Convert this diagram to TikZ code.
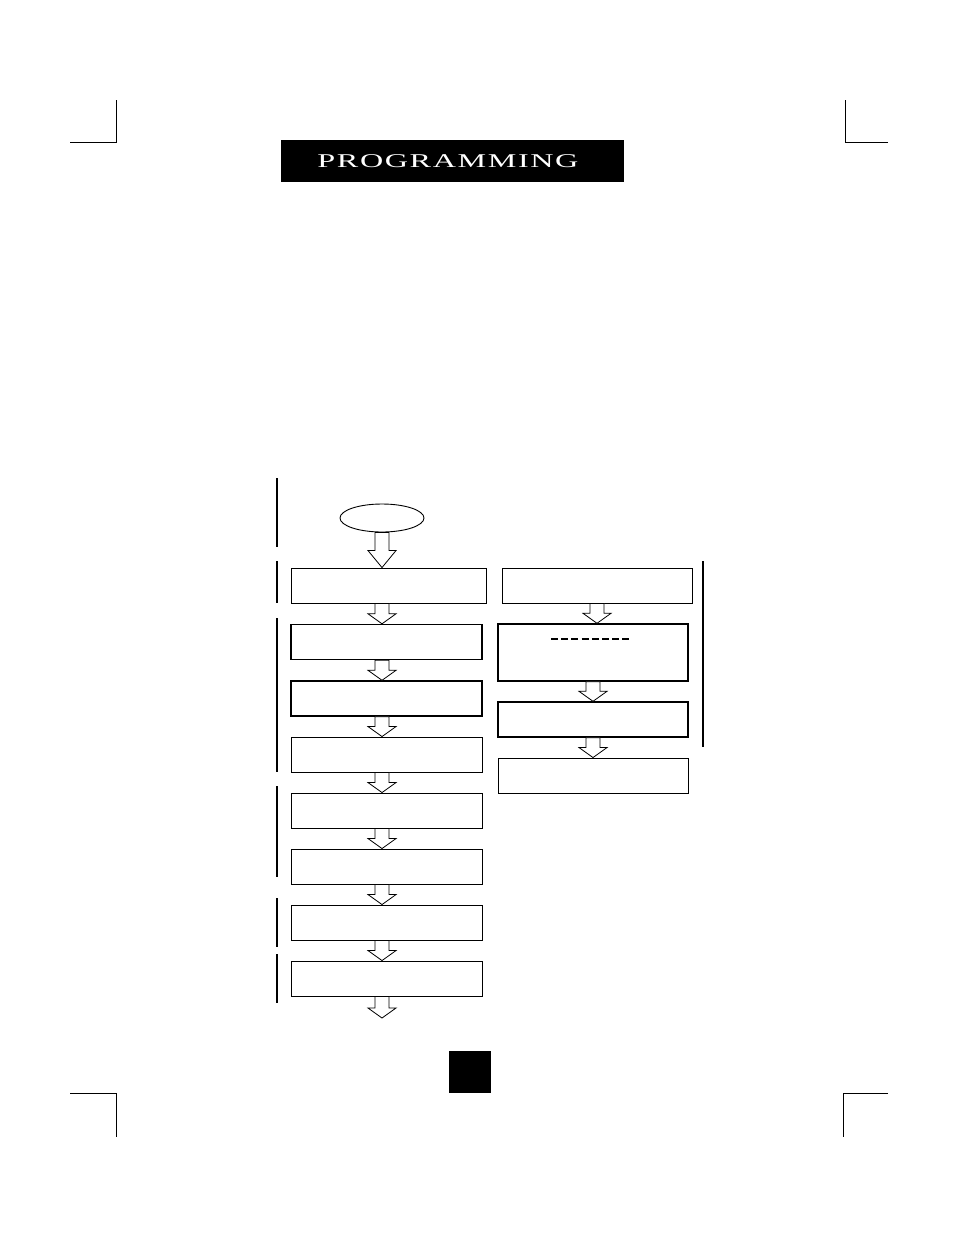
\documentclass[tikz,border=0pt]{standalone}
\usepackage{fontspec}
\setmainfont{Liberation Serif}
\usetikzlibrary{shapes,arrows,calc}

\begin{document}
\begin{tikzpicture}[
  x=1pt,y=-1pt,
  stepBox/.style={draw,rectangle,line width=0.9pt,minimum width=191pt,minimum height=35pt,inner sep=0pt},
  heavyBox/.style={stepBox,line width=1.4pt},
  startNode/.style={draw,ellipse,line width=0.9pt,minimum width=84pt,minimum height=28pt,inner sep=0pt},
  titleBar/.style={fill=black,text=white,minimum width=343pt,minimum height=42pt,inner sep=0pt,font=\fontsize{19.5}{19.5}\selectfont},
  pageMark/.style={fill=black,minimum width=42pt,minimum height=42pt,inner sep=0pt},
  cropMark/.style={line width=0.9pt},
  bracketBar/.style={line width=1.1pt},
  dashRule/.style={line width=2pt,dash pattern=on 7pt off 3.2pt},
  blockArrow/.style={draw,fill=white,line width=0.8pt,line join=miter,
    to path={let \p1=(\tikztostart),\p2=(\tikztotarget) in
      (\x2-7pt,\y1) -- (\x2-7pt,\y2+#1) -- (\x2-14pt,\y2+#1) -- (\x2,\y2)
      -- (\x2+14pt,\y2+#1) -- (\x2+7pt,\y2+#1) -- (\x2+7pt,\y1) -- cycle}},
  blockArrow/.default=10pt]

  \useasboundingbox (0,0) rectangle (954,1235);

  % crop marks
  \draw [cropMark] (70,142) -- (116,142) -- (116,100);
  \draw [cropMark] (888,142) -- (845,142) -- (845,100);
  \draw [cropMark] (70,1093) -- (116,1093) -- (116,1137);
  \draw [cropMark] (888,1093) -- (843,1093) -- (843,1137);

  % header and page tab
  \node [titleBar] (title) at (452.5,161) {\hspace*{-9pt}\scalebox{1.65}[1]{\addfontfeature{LetterSpace=5}PROGRAMMING}};
  \node [pageMark] (pageNo) at (470,1072) {};

  % left column
  \node [startNode] (start) at (382,518) {};
  \node [stepBox,minimum width=195pt] (b1) at (388.5,585.5) {};
  \node [heavyBox] (b2) at (386.5,642) {};
  \node [heavyBox] (b3) at (386.5,698.5) {};
  \node [stepBox] (b4) at (386.5,754.5) {};
  \node [stepBox] (b5) at (386.5,810.5) {};
  \node [stepBox] (b6) at (386.5,866.5) {};
  \node [stepBox] (b7) at (386.5,922.5) {};
  \node [stepBox] (b8) at (386.5,978.5) {};
  \coordinate (flowEnd) at (382,1018);

  % right column
  \node [stepBox,minimum width=190pt] (r1) at (597,585.5) {};
  \node [heavyBox,minimum width=190pt,minimum height=57pt] (r2) at (593,652.5) {};
  \node [heavyBox,minimum width=190pt] (r3) at (593,719.5) {};
  \node [stepBox,minimum width=190pt] (r4) at (593,775.5) {};
  \draw [dashRule] (551,639) -- (629,639);

  % arrows down the left column
  \draw [blockArrow=17pt] (start.south) to (b1.north -| start.south);
  \foreach \a/\b in {b1/b2,b2/b3,b3/b4,b4/b5,b5/b6,b6/b7,b7/b8}
    \draw [blockArrow] (\a.south -| start.south) to (\b.north -| start.south);
  \draw [blockArrow] (b8.south -| start.south) to (flowEnd);

  % arrows down the right column
  \draw [blockArrow] (r1.south) to (r2.north -| r1.south);
  \draw [blockArrow] (r2.south) to (r3.north);
  \draw [blockArrow] (r3.south) to (r4.north);

  % side brackets
  \draw [bracketBar] (277,478) -- (277,547);
  \draw [bracketBar] (277,561) -- (277,603);
  \draw [bracketBar] (277,618) -- (277,772);
  \draw [bracketBar] (277,786) -- (277,877);
  \draw [bracketBar] (277,898) -- (277,947);
  \draw [bracketBar] (277,954) -- (277,1003);
  \draw [bracketBar,line width=2pt] (703,561) -- (703,747);
\end{tikzpicture}
\end{document}
